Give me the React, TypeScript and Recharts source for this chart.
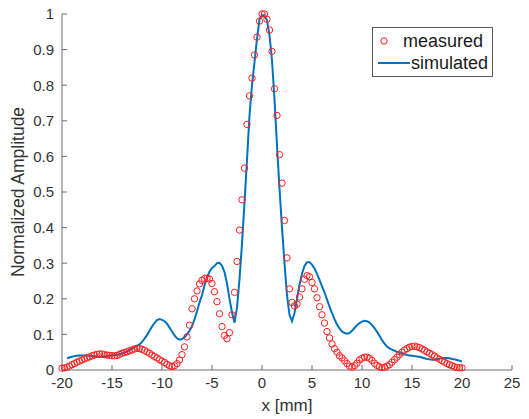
import React from 'react';
import { ComposedChart, Line, XAxis, YAxis, Legend } from 'recharts';

const xGrid = [
  -20, -19.75, -19.5, -19.25, -19, -18.75, -18.5, -18.25, -18, -17.75, -17.5, -17.25, -17, -16.75, -16.5, -16.25,
  -16, -15.75, -15.5, -15.25, -15, -14.75, -14.5, -14.25, -14, -13.75, -13.5, -13.25, -13, -12.75, -12.5, -12.25,
  -12, -11.75, -11.5, -11.25, -11, -10.75, -10.5, -10.25, -10, -9.75, -9.5, -9.25, -9, -8.75, -8.5, -8.25,
  -8, -7.75, -7.5, -7.25, -7, -6.75, -6.5, -6.25, -6, -5.75, -5.5, -5.25, -5, -4.75, -4.5, -4.25,
  -4, -3.75, -3.5, -3.25, -3, -2.75, -2.5, -2.25, -2, -1.75, -1.5, -1.25, -1, -0.75, -0.5, -0.25,
  0, 0.25, 0.5, 0.75, 1, 1.25, 1.5, 1.75, 2, 2.25, 2.5, 2.75, 3, 3.25, 3.5, 3.75,
  4, 4.25, 4.5, 4.75, 5, 5.25, 5.5, 5.75, 6, 6.25, 6.5, 6.75, 7, 7.25, 7.5, 7.75,
  8, 8.25, 8.5, 8.75, 9, 9.25, 9.5, 9.75, 10, 10.25, 10.5, 10.75, 11, 11.25, 11.5, 11.75,
  12, 12.25, 12.5, 12.75, 13, 13.25, 13.5, 13.75, 14, 14.25, 14.5, 14.75, 15, 15.25, 15.5, 15.75,
  16, 16.25, 16.5, 16.75, 17, 17.25, 17.5, 17.75, 18, 18.25, 18.5, 18.75, 19, 19.25, 19.5, 19.75, 20,
];

const measured = [
  0.005, 0.006, 0.008, 0.011, 0.015, 0.018, 0.022, 0.025, 0.028, 0.031, 0.034, 0.037, 0.040, 0.042, 0.044, 0.045,
  0.045, 0.043, 0.042, 0.041, 0.040, 0.040, 0.041, 0.044, 0.047, 0.049, 0.051, 0.054, 0.056, 0.059, 0.061, 0.060,
  0.058, 0.055, 0.051, 0.047, 0.042, 0.038, 0.034, 0.029, 0.025, 0.021, 0.016, 0.012, 0.010, 0.012, 0.018, 0.028,
  0.043, 0.065, 0.093, 0.126, 0.172, 0.200, 0.222, 0.242, 0.252, 0.257, 0.258, 0.255, 0.243, 0.220, 0.192, 0.158,
  0.122, 0.097, 0.088, 0.105, 0.155, 0.218, 0.305, 0.393, 0.478, 0.567, 0.690, 0.770, 0.820, 0.885, 0.935, 0.980,
  1.000, 1.000, 0.985, 0.955, 0.895, 0.790, 0.715, 0.605, 0.525, 0.420, 0.315, 0.228, 0.190, 0.180, 0.185, 0.205,
  0.228, 0.255, 0.265, 0.262, 0.246, 0.228, 0.203, 0.178, 0.155, 0.132, 0.108, 0.090, 0.073, 0.060, 0.050, 0.040,
  0.034, 0.026, 0.018, 0.011, 0.008, 0.012, 0.019, 0.028, 0.033, 0.036, 0.036, 0.033, 0.027, 0.019, 0.013, 0.009,
  0.007, 0.008, 0.011, 0.015, 0.022, 0.029, 0.036, 0.043, 0.050, 0.056, 0.060, 0.064, 0.066, 0.067, 0.065, 0.063,
  0.059, 0.055, 0.051, 0.047, 0.043, 0.039, 0.034, 0.030, 0.026, 0.022, 0.018, 0.015, 0.012, 0.009, 0.007, 0.006, 0.006,
];

const simulated = [
  null, null, 0.033, 0.035, 0.037, 0.039, 0.040, 0.041, 0.041, 0.041, 0.041, 0.040, 0.039, 0.038, 0.037, 0.037,
  0.037, 0.038, 0.039, 0.040, 0.041, 0.042, 0.043, 0.044, 0.046, 0.049, 0.052, 0.056, 0.060, 0.064, 0.068, 0.072,
  0.079, 0.088, 0.098, 0.110, 0.122, 0.132, 0.140, 0.143, 0.141, 0.137, 0.130, 0.119, 0.108, 0.097, 0.089, 0.085,
  0.087, 0.092, 0.100, 0.110, 0.123, 0.142, 0.165, 0.190, 0.210, 0.238, 0.260, 0.276, 0.287, 0.292, 0.300, 0.301,
  0.293, 0.275, 0.243, 0.200, 0.162, 0.133, 0.175, 0.255, 0.355, 0.470, 0.590, 0.715, 0.800, 0.865, 0.930, 0.985,
  0.997, 0.996, 0.982, 0.940, 0.870, 0.760, 0.630, 0.510, 0.400, 0.300, 0.210, 0.155, 0.137, 0.160, 0.200, 0.240,
  0.270, 0.292, 0.303, 0.303, 0.296, 0.285, 0.270, 0.253, 0.235, 0.218, 0.198, 0.178, 0.160, 0.143, 0.128, 0.117,
  0.108, 0.104, 0.102, 0.104, 0.110, 0.118, 0.126, 0.132, 0.136, 0.138, 0.137, 0.133, 0.126, 0.118, 0.107, 0.096,
  0.084, 0.074, 0.066, 0.061, 0.057, 0.054, 0.051, 0.048, 0.046, 0.044, 0.042, 0.041, 0.040, 0.039, 0.038, 0.037,
  0.035, 0.033, 0.031, 0.030, 0.029, 0.029, 0.030, 0.032, 0.033, 0.034, 0.034, 0.033, 0.031, 0.030, 0.028, 0.026, 0.024,
];

const xTicks = [-20, -15, -10, -5, 0, 5, 10, 15, 20, 25];
const yTicks = [0, 0.1, 0.2, 0.3, 0.4, 0.5, 0.6, 0.7, 0.8, 0.9, 1];

const seriesNames = { measured: 'measured', simulated: 'simulated' };
const xTitle = 'x [mm]';
const yTitle = 'Normalized Amplitude';

const data = xGrid.map((x, i) => ({ x, measured: measured[i], simulated: simulated[i] }));

const FONT = '"Liberation Sans", Arial, Helvetica, sans-serif';
const RED = '#ff1f1f';
const BLUE = '#0072BD';
const AXIS = '#6e6e6e';
const TEXT = '#333333';

const LegendBox = () => (
  <div
    style={{
      border: '1px solid #5a5a5a',
      background: '#fff',
      width: 119,
      height: 48,
      position: 'relative',
    }}
  >
    <svg width={119} height={48} style={{ position: 'absolute', left: 0, top: 0 }}>
      <circle cx={11} cy={13} r={3.2} fill="none" stroke={RED} strokeWidth={1} />
      <line x1={5} x2={37} y1={35} y2={35} stroke={BLUE} strokeWidth={2} />
      <text x={30} y={19} fontSize={18} fontFamily={FONT} fill="#1a1a1a">{seriesNames.measured}</text>
      <text x={38} y={41} fontSize={18} fontFamily={FONT} fill="#1a1a1a">{seriesNames.simulated}</text>
    </svg>
  </div>
);

const YTitle = (props: any) => {
  const { viewBox } = props;
  const cx = viewBox.x + 18;
  const cy = viewBox.y + viewBox.height / 2;
  return (
    <text
      x={cx}
      y={cy}
      transform={`rotate(-90, ${cx}, ${cy})`}
      textAnchor="middle"
      dominantBaseline="central"
      fontSize={17.5}
      fontFamily={FONT}
      fill={TEXT}
    >
      {yTitle}
    </text>
  );
};

const XTitle = (props: any) => {
  const { viewBox } = props;
  const cx = viewBox.x + viewBox.width / 2;
  const cy = viewBox.y + 35;
  return (
    <text x={cx} y={cy} textAnchor="middle" dominantBaseline="central" fontSize={17} fontFamily={FONT} fill={TEXT}>
      {xTitle}
    </text>
  );
};

export default function App() {
  return (
    <div style={{ position: 'absolute', left: 0, top: 0, width: 529, height: 419, background: '#fff' }}>
      <ComposedChart
        width={529}
        height={419}
        data={data}
        margin={{ top: 14, right: 17, bottom: 0, left: 0 }}
      >
        <XAxis
          type="number"
          dataKey="x"
          domain={[-20, 25]}
          ticks={xTicks}
          interval={0}
          height={49}
          tickSize={-5}
          tickMargin={12}
          stroke={AXIS}
          tick={{ fill: TEXT, fontSize: 15, fontFamily: FONT }}
          label={<XTitle />}
        />
        <YAxis
          type="number"
          domain={[0, 1]}
          ticks={yTicks}
          interval={0}
          width={62}
          tickSize={-5}
          tickMargin={13}
          stroke={AXIS}
          tick={{ fill: TEXT, fontSize: 15, fontFamily: FONT }}
          tickFormatter={(v: number) => (v === 0 || v === 1 ? String(v) : v.toFixed(1))}
          label={<YTitle />}
        />
        <Line
          type="linear"
          dataKey="simulated"
          stroke={BLUE}
          strokeWidth={2}
          dot={false}
          activeDot={false}
          isAnimationActive={false}
        />
        <Line
          type="linear"
          dataKey="measured"
          stroke="none"
          strokeWidth={0}
          dot={{ r: 3.2, fill: 'none', stroke: RED, strokeWidth: 1 }}
          activeDot={false}
          isAnimationActive={false}
        />
        <Legend
          layout="vertical"
          align="center"
          verticalAlign="middle"
          content={<LegendBox />}
          wrapperStyle={{ position: 'absolute', left: 372, top: 27, width: 121, height: 50 }}
        />
      </ComposedChart>
    </div>
  );
}
